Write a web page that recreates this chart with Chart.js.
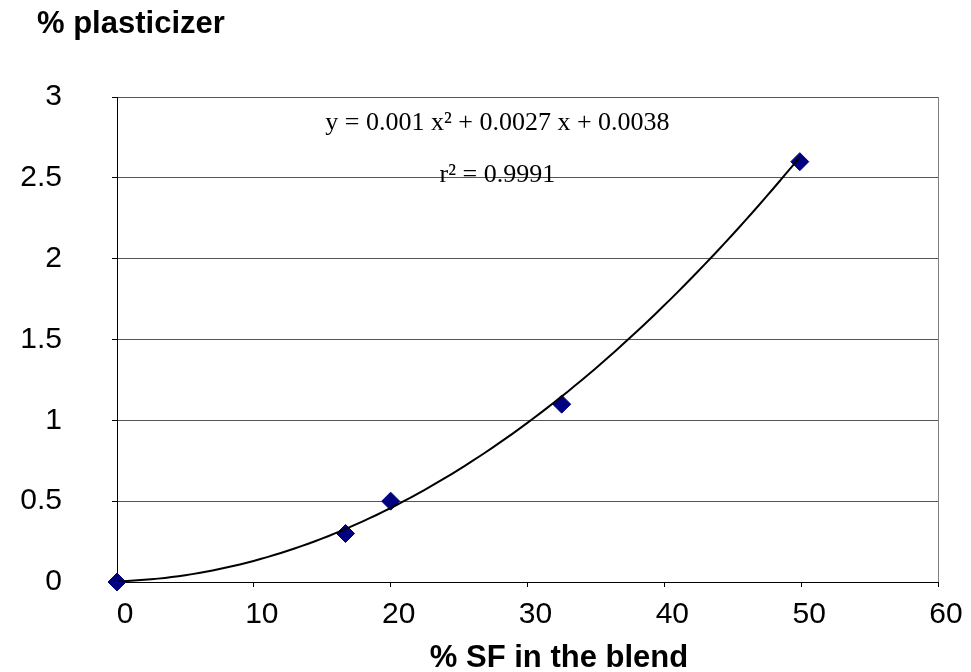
<!DOCTYPE html>
<html>
<head>
<meta charset="utf-8">
<script src="https://cdn.jsdelivr.net/npm/chart.js@4.4.1/dist/chart.umd.min.js"></script>
<style>
  html, body { margin: 0; padding: 0; background: #fff; }
  #wrap { width: 971px; height: 672px; position: relative; }
</style>
</head>
<body>
<div id="wrap"><canvas id="blend-chart"></canvas></div>
<script>
// measured blends
const sfPercent = [0, 16.7, 20, 32.5, 49.9];
const plasticizer = [0, 0.3, 0.5, 1.1, 2.6];

// quadratic trendline: a x^2 + b x + c
const trendCoef = [0.001, 0.0027, 0.0038];
const rSquared = 0.9991;

const xTickValues = [0, 10, 20, 30, 40, 50, 60];
const yTickValues = [0, 0.5, 1, 1.5, 2, 2.5, 3];

const xTitle = "% SF in the blend";
const yTitle = "% plasticizer";

const sansFamily = 'Arial, "Liberation Sans", sans-serif';
const serifFamily = '"Times New Roman", "Liberation Serif", serif';

// curve along the fitted polynomial, from 0 to the last measured blend
const trendPoints = [];
const lastX = sfPercent[sfPercent.length - 1];
for (let i = 0; i <= 100; i++) {
  const x = (lastX * i) / 100;
  trendPoints.push({
    x: x,
    y: trendCoef[0] * x * x + trendCoef[1] * x + trendCoef[2],
  });
}

const equationText =
  "y = " + trendCoef[0] + " x\u00B2 + " + trendCoef[1] + " x + " + trendCoef[2];
const rText = "r\u00B2 = " + rSquared;

// axis titles and the trendline equation
const chartText = {
  id: "chartText",
  afterDraw(chart) {
    const { ctx } = chart;
    const x = chart.scales.x;
    const y = chart.scales.y;
    ctx.save();
    ctx.fillStyle = "#000";
    ctx.textBaseline = "alphabetic";

    ctx.font = "bold 31px " + sansFamily;
    ctx.textAlign = "left";
    ctx.fillText(yTitle, 37, 33);
    ctx.textAlign = "center";
    ctx.fillText(xTitle, 559, 667);

    ctx.font = "26px " + serifFamily;
    ctx.fillText(equationText, x.getPixelForValue(27.8), y.getPixelForValue(2.796));
    ctx.fillText(rText, x.getPixelForValue(27.8), y.getPixelForValue(2.474));
    ctx.restore();
  },
};

const contenedor = document.querySelector("#blend-chart").getContext("2d");

const blendChart = new Chart(contenedor, {
  type: "scatter",
  data: {
    datasets: [
      {
        label: "trend",
        type: "line",
        data: trendPoints,
        borderColor: "#000",
        borderWidth: 2,
        pointRadius: 0,
        tension: 0,
        fill: false,
        order: 0,
      },
      {
        label: "% plasticizer",
        data: sfPercent.map((v, i) => ({ x: v, y: plasticizer[i] })),
        pointStyle: "rectRot",
        pointRadius: 9,
        backgroundColor: "#000080",
        borderColor: "#000080",
        borderWidth: 1,
        clip: false,
        order: 1,
      },
    ],
  },
  options: {
    responsive: true,
    maintainAspectRatio: false,
    animation: false,
    layout: { padding: { top: 97, right: 33, left: 0, bottom: 0 } },
    plugins: {
      legend: { display: false },
      tooltip: { enabled: false },
    },
    scales: {
      x: {
        type: "linear",
        min: 0,
        max: 60,
        afterBuildTicks: (s) => {
          s.ticks = xTickValues.map((v) => ({ value: v }));
        },
        afterFit: (s) => {
          s.height = 90;
        },
        ticks: {
          color: "#000",
          font: { family: sansFamily, size: 30 },
          padding: 10,
          labelOffset: 8,
          maxRotation: 0,
          callback: (v) => String(v),
        },
        grid: {
          color: (c) => (c.tick && c.tick.value === 60 ? "#808080" : "rgba(0,0,0,0)"),
          tickColor: "#000",
          tickLength: 5,
        },
        border: { color: "#000", width: 1 },
      },
      y: {
        min: 0,
        max: 3,
        afterBuildTicks: (s) => {
          s.ticks = yTickValues.map((v) => ({ value: v }));
        },
        afterFit: (s) => {
          s.width = 117;
        },
        ticks: {
          color: "#000",
          font: { family: sansFamily, size: 30 },
          padding: 50,
          callback: (v) => String(v),
        },
        grid: {
          color: "#555",
          tickColor: "#000",
          tickLength: 5,
        },
        border: { color: "#000", width: 1 },
      },
    },
  },
  plugins: [chartText],
});
</script>
</body>
</html>
